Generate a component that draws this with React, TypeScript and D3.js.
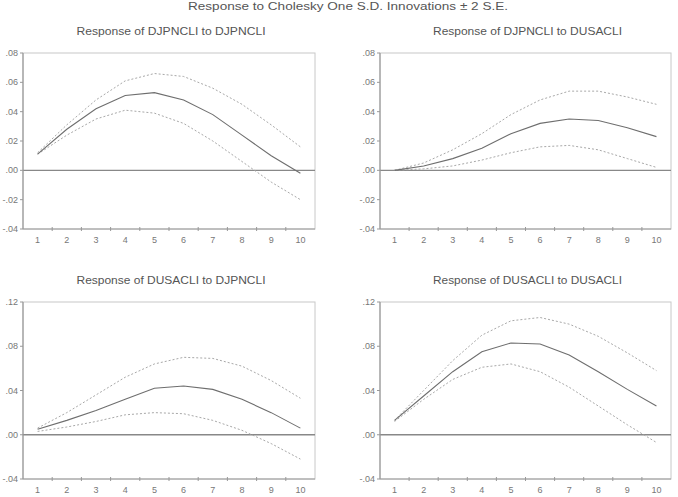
import { useRef, useEffect } from "react";
import * as d3 from "d3";

const periods = [1, 2, 3, 4, 5, 6, 7, 8, 9, 10];

// Response of DJPNCLI to DJPNCLI
const jpJpMid = [0.011, 0.028, 0.042, 0.051, 0.053, 0.048, 0.038, 0.024, 0.01, -0.002];
const jpJpUp = [0.012, 0.031, 0.048, 0.061, 0.066, 0.064, 0.056, 0.045, 0.031, 0.016];
const jpJpLo = [0.011, 0.024, 0.035, 0.041, 0.039, 0.032, 0.02, 0.006, -0.008, -0.02];

// Response of DJPNCLI to DUSACLI
const jpUsMid = [0.0, 0.003, 0.008, 0.015, 0.025, 0.032, 0.035, 0.034, 0.029, 0.023];
const jpUsUp = [0.0, 0.005, 0.014, 0.025, 0.038, 0.048, 0.054, 0.054, 0.05, 0.045];
const jpUsLo = [0.0, 0.001, 0.003, 0.007, 0.012, 0.016, 0.017, 0.014, 0.008, 0.002];

// Response of DUSACLI to DJPNCLI
const usJpMid = [0.005, 0.013, 0.022, 0.032, 0.042, 0.044, 0.041, 0.032, 0.02, 0.006];
const usJpUp = [0.006, 0.02, 0.036, 0.052, 0.064, 0.07, 0.069, 0.062, 0.049, 0.033];
const usJpLo = [0.003, 0.007, 0.012, 0.018, 0.02, 0.019, 0.013, 0.004, -0.008, -0.022];

// Response of DUSACLI to DUSACLI
const usUsMid = [0.013, 0.035, 0.057, 0.075, 0.083, 0.082, 0.072, 0.057, 0.041, 0.026];
const usUsUp = [0.013, 0.04, 0.067, 0.09, 0.103, 0.106, 0.1, 0.089, 0.074, 0.058];
const usUsLo = [0.012, 0.032, 0.05, 0.061, 0.064, 0.057, 0.043, 0.026, 0.009, -0.007];

const topTicks = [-0.04, -0.02, 0, 0.02, 0.04, 0.06, 0.08];
const bottomTicks = [-0.04, 0, 0.04, 0.08, 0.12];

const mainTitle = "Response to Cholesky One S.D. Innovations \u00b1 2 S.E.";

const panels = [
  { title: "Response of DJPNCLI to DJPNCLI", mid: jpJpMid, up: jpJpUp, lo: jpJpLo, ticks: topTicks, x0: 23, x1: 315, y0: 53, y1: 229 },
  { title: "Response of DJPNCLI to DUSACLI", mid: jpUsMid, up: jpUsUp, lo: jpUsLo, ticks: topTicks, x0: 380, x1: 671, y0: 53, y1: 229 },
  { title: "Response of DUSACLI to DJPNCLI", mid: usJpMid, up: usJpUp, lo: usJpLo, ticks: bottomTicks, x0: 23, x1: 315, y0: 302, y1: 479 },
  { title: "Response of DUSACLI to DUSACLI", mid: usUsMid, up: usUsUp, lo: usUsLo, ticks: bottomTicks, x0: 380, x1: 671, y0: 302, y1: 479 },
];

const fmt = (v: number) => {
  if (v === 0) return ".00";
  const s = Math.abs(v).toFixed(2).replace(/^0/, "");
  return v < 0 ? "-" + s : s;
};

const App = () => {
  const svgRef = useRef<SVGSVGElement>(null);

  useEffect(() => {
    const svg = d3.select(svgRef.current);
    svg.selectAll("*").remove();
    const font = "'Liberation Sans', Arial, sans-serif";

    svg
      .append("text")
      .attr("x", 348)
      .attr("y", 10)
      .attr("text-anchor", "middle")
      .attr("font-family", font)
      .attr("font-size", 11)
      .attr("textLength", 320)
      .attr("lengthAdjust", "spacingAndGlyphs")
      .attr("fill", "#555")
      .text(mainTitle);

    panels.forEach((p) => {
      const g = svg.append("g");
      const ext = d3.extent(p.ticks) as [number, number];
      const x = d3
        .scalePoint<number>()
        .domain(periods)
        .range([p.x0, p.x1])
        .padding(0.5);
      const y = d3.scaleLinear().domain(ext).range([p.y1, p.y0]);
      const step = x.step();

      g.append("text")
        .attr("x", (p.x0 + p.x1) / 2 + 2)
        .attr("y", p.y0 - 18)
        .attr("text-anchor", "middle")
        .attr("font-family", font)
        .attr("font-size", 10.5)
        .attr("textLength", 189)
        .attr("lengthAdjust", "spacingAndGlyphs")
        .attr("fill", "#555")
        .text(p.title);

      // frame
      g.append("rect")
        .attr("x", p.x0)
        .attr("y", p.y0)
        .attr("width", p.x1 - p.x0)
        .attr("height", p.y1 - p.y0)
        .attr("fill", "none")
        .attr("stroke", "#c8c8c8")
        .attr("stroke-width", 1);

      // zero line
      g.append("line")
        .attr("x1", p.x0)
        .attr("x2", p.x1)
        .attr("y1", y(0))
        .attr("y2", y(0))
        .attr("stroke", "#888")
        .attr("stroke-width", 1.3);

      // left and bottom axes
      g.append("line")
        .attr("x1", p.x0)
        .attr("x2", p.x0)
        .attr("y1", p.y0)
        .attr("y2", p.y1)
        .attr("stroke", "#999")
        .attr("stroke-width", 1.2);
      g.append("line")
        .attr("x1", p.x0)
        .attr("x2", p.x1)
        .attr("y1", p.y1)
        .attr("y2", p.y1)
        .attr("stroke", "#999")
        .attr("stroke-width", 1.2);

      p.ticks.forEach((t) => {
        g.append("line")
          .attr("x1", p.x0 - 3)
          .attr("x2", p.x0)
          .attr("y1", y(t))
          .attr("y2", y(t))
          .attr("stroke", "#999");
        g.append("text")
          .attr("x", p.x0 - 5)
          .attr("y", y(t) + 3)
          .attr("text-anchor", "end")
          .attr("font-family", font)
          .attr("font-size", 9)
          .attr("fill", "#777")
          .text(fmt(t));
      });

      periods.forEach((d, i) => {
        g.append("text")
          .attr("x", x(d)!)
          .attr("y", p.y1 + 14)
          .attr("text-anchor", "middle")
          .attr("font-family", font)
          .attr("font-size", 9)
          .attr("fill", "#777")
          .text(String(d));
        if (i > 0) {
          const tx = p.x0 + step * i;
          g.append("line")
            .attr("x1", tx)
            .attr("x2", tx)
            .attr("y1", p.y1 - 2)
            .attr("y2", p.y1 + 2)
            .attr("stroke", "#999");
        }
      });

      const line = d3
        .line<number>()
        .x((_, i) => x(periods[i])!)
        .y((v) => y(v));

      [p.up, p.lo].forEach((s) => {
        g.append("path")
          .datum(s)
          .attr("d", line)
          .attr("fill", "none")
          .attr("stroke", "#a8a8a8")
          .attr("stroke-width", 1)
          .attr("stroke-dasharray", "2,2");
      });
      g.append("path")
        .datum(p.mid)
        .attr("d", line)
        .attr("fill", "none")
        .attr("stroke", "#6e6e6e")
        .attr("stroke-width", 1.1);
    });
  }, []);

  return (
    <svg
      ref={svgRef}
      width={678}
      height={497}
      style={{ position: "absolute", left: 0, top: 0, background: "#fff" }}
    ></svg>
  );
};

export default App;
